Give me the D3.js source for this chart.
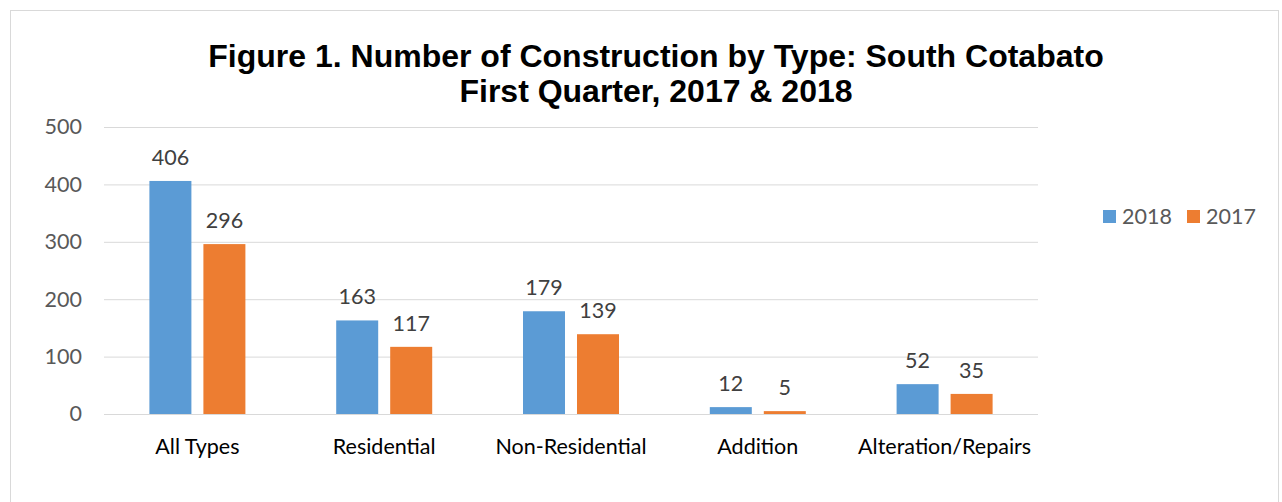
<!DOCTYPE html>
<meta charset="utf-8">
<script src="https://d3js.org/d3.v7.min.js"></script>
<style>
  body { margin: 0; background: #fff; }
  svg text { font-family: Lato, "Open Sans", sans-serif; }
</style>
<div id="chart"></div>
<script>
    // data
    var categories = ["All Types", "Residential", "Non-Residential", "Addition", "Alteration/Repairs"];
    var seriesNames = ["2018", "2017"];
    var values2018 = [406, 163, 179, 12, 52];
    var values2017 = [296, 117, 139, 5, 35];
    var yTicks = [0, 100, 200, 300, 400, 500];
    var colors = ["#5b9bd5", "#ed7d31"];

    var W = 1282, H = 502;
    var margin = {top: 127, left: 104, right: 244, bottom: 88};
    var width = W - margin.left - margin.right,
        height = H - margin.top - margin.bottom;
    var fs = "21.5px";

    var svg = d3.select("#chart").append("svg")
        .attr("width", W)
        .attr("height", H);

    // chart frame
    svg.append("rect")
        .attr("x", 10.5).attr("y", 10.5)
        .attr("width", 1268).attr("height", 520)
        .attr("fill", "none")
        .attr("stroke", "#d9d9d9");

    // title
    var title = svg.append("text")
        .attr("text-anchor", "middle")
        .style("font-family", "'Liberation Sans', Arial, sans-serif")
        .style("font-weight", "bold")
        .style("font-size", "32px")
        .attr("fill", "#000");
    title.append("tspan").attr("x", 656).attr("y", 67)
        .text("Figure 1. Number of Construction by Type: South Cotabato");
    title.append("tspan").attr("x", 656).attr("y", 102)
        .text("First Quarter, 2017 & 2018");

    var g = svg.append("g")
        .attr("transform", "translate(" + margin.left + "," + margin.top + ")");

    var x = d3.scaleBand()
        .domain(categories)
        .range([0, width]);

    var xs = d3.scaleBand()
        .domain(seriesNames)
        .range([x.bandwidth() / 2 - 48, x.bandwidth() / 2 + 48])
        .paddingInner(12 / 54)
        .paddingOuter(0);

    var y = d3.scaleLinear()
        .domain([0, 500])
        .range([height, 0]);

    // gridlines
    g.append("g")
        .selectAll("line")
        .data(yTicks)
        .join("line")
        .attr("x1", 0).attr("x2", width)
        .attr("y1", d => y(d) + 0.5).attr("y2", d => y(d) + 0.5)
        .attr("stroke", "#d9d9d9")
        .attr("stroke-width", 1);

    // y axis labels
    var yAxis = g.append("g")
        .call(d3.axisLeft(y).tickValues(yTicks).tickSize(0).tickPadding(22));
    yAxis.select(".domain").remove();
    yAxis.selectAll("text")
        .style("font-size", fs)
        .attr("fill", "#595959");

    // x axis labels
    var xAxis = g.append("g")
        .attr("transform", "translate(0," + height + ")")
        .call(d3.axisBottom(x).tickSize(0).tickPadding(25));
    xAxis.select(".domain").remove();
    xAxis.selectAll("text")
        .style("font-size", fs)
        .attr("fill", "#000");

    var rows = categories.map((c, i) => ({cat: c, vals: [values2018[i], values2017[i]]}));

    var groups = g.selectAll(".grp")
        .data(rows)
        .join("g")
        .attr("transform", d => "translate(" + x(d.cat) + ",0)");

    groups.selectAll("rect")
        .data(d => d.vals.map((v, j) => ({key: seriesNames[j], v: v, j: j})))
        .join("rect")
        .attr("x", d => xs(d.key))
        .attr("width", xs.bandwidth())
        .attr("y", d => y(d.v))
        .attr("height", d => y(0) - y(d.v))
        .attr("fill", d => colors[d.j]);

    groups.selectAll(".lbl")
        .data(d => d.vals.map((v, j) => ({key: seriesNames[j], v: v, j: j})))
        .join("text")
        .attr("class", "lbl")
        .attr("x", d => xs(d.key) + xs.bandwidth() / 2)
        .attr("y", d => y(d.v) - 16)
        .attr("text-anchor", "middle")
        .style("font-size", fs)
        .attr("fill", "#404040")
        .text(d => d.v);

    // legend
    var legend = svg.append("g")
        .attr("transform", "translate(1103,210)");
    var legendX = [0, 84];
    seriesNames.forEach(function(s, i) {
        legend.append("rect")
            .attr("x", legendX[i]).attr("y", 0)
            .attr("width", 13).attr("height", 13)
            .attr("fill", colors[i]);
        legend.append("text")
            .attr("x", legendX[i] + 19).attr("y", 14)
            .style("font-size", fs)
            .attr("fill", "#595959")
            .text(s);
    });
</script>
